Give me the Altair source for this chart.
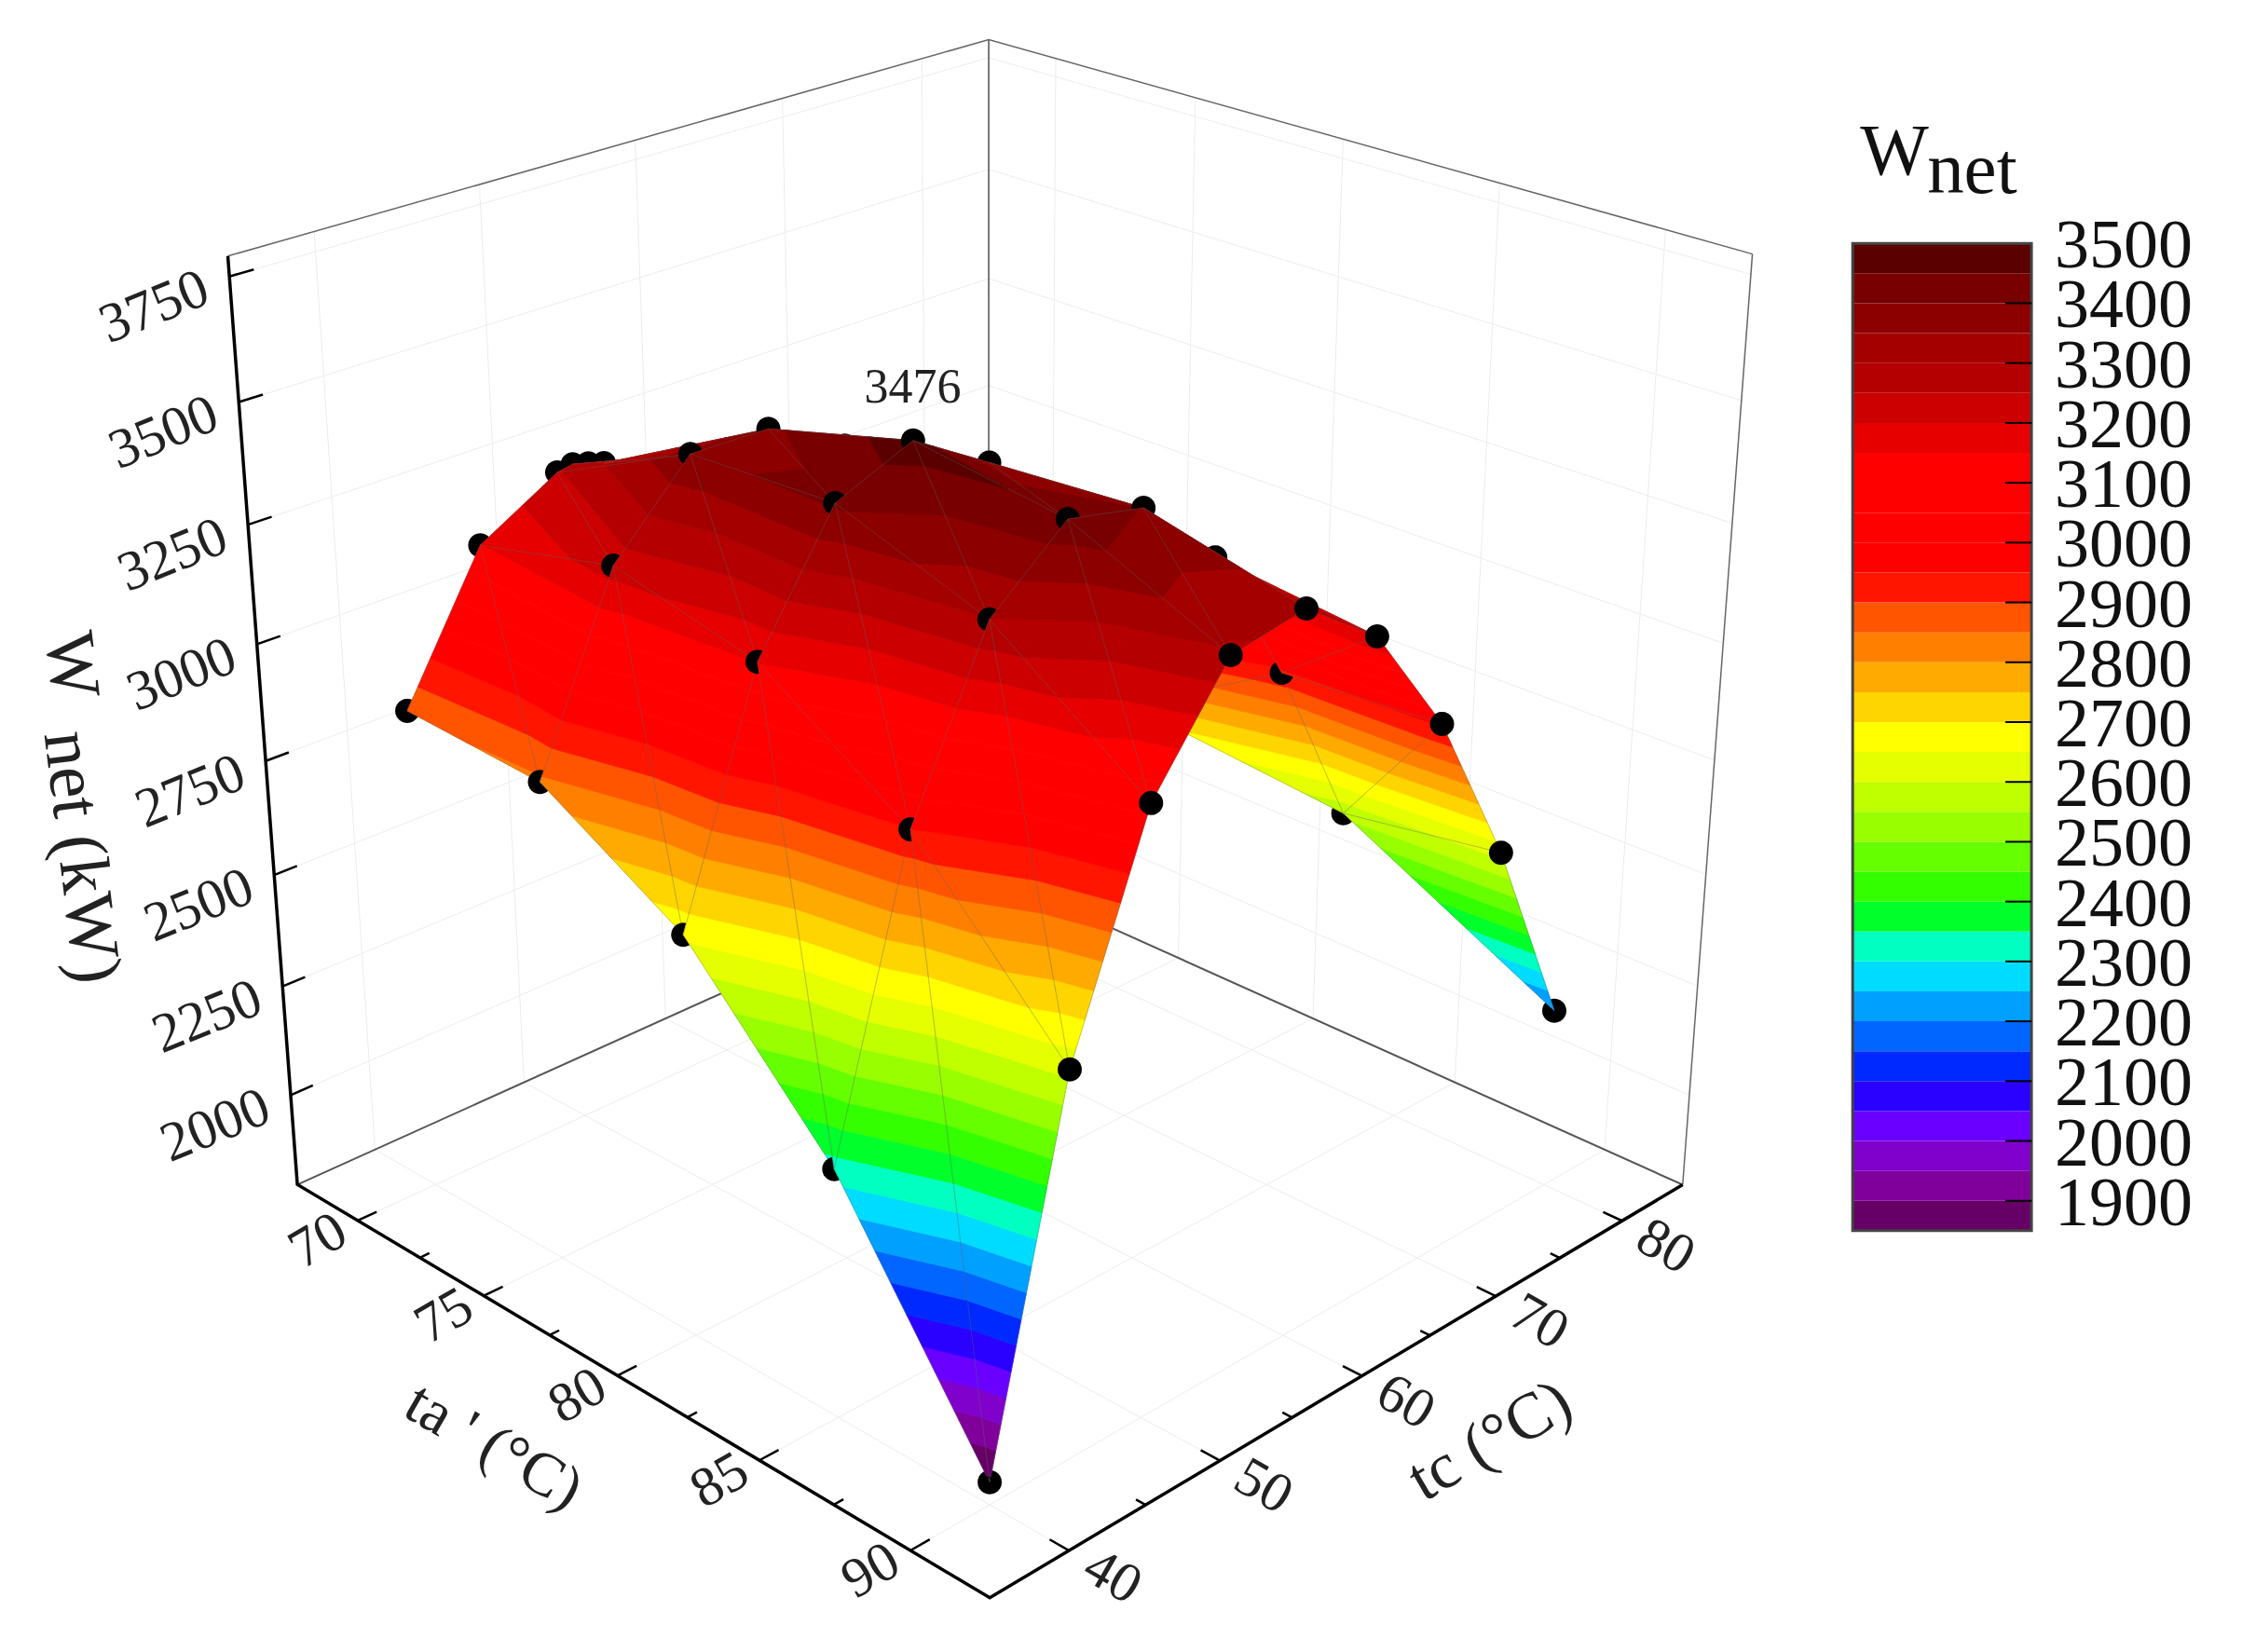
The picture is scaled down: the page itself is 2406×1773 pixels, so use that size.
import math
import numpy as np
import pandas as pd
import altair as alt

# ---------- data ----------
TA_ROWS = [70, 75, 80, 85, 90]
TC_BY_ROW = {
    70: [40, 45, 50, 51, 52, 53],
    75: [40, 45, 50, 55, 60, 65],
    80: [40, 45, 50, 55, 60, 65, 70],
    85: [40, 45, 50, 55, 60, 65, 70, 75],
    90: [40, 45, 50, 55, 60, 65, 70, 75, 80],
}
W_BY_ROW = {
    70: [2858, 3148, 3244, 3250, 3241, 3230],
    75: [2840, 3224, 3394, 3390, 3300, 2950],
    80: [2662, 3152, 3408, 3476, 3376, 3200, 2740],
    85: [2328, 2949, 3298, 3434, 3398, 3240, 2938, 2566],
    90: [1839, 2615, 3070, 3291, 3319, 3202, 2960, 2619, 2194],
}
PEAK_LABEL = "3476"
TA_TICKS = [70, 75, 80, 85, 90]
TC_TICKS = [40, 50, 60, 70, 80]
W_TICKS = [2000, 2250, 2500, 2750, 3000, 3250, 3500, 3750]
LEG_TICKS = [1900, 2000, 2100, 2200, 2300, 2400, 2500, 2600, 2700, 2800, 2900,
             3000, 3100, 3200, 3300, 3400]
LEG_LABELS = LEG_TICKS + [3500]
LEVELS = list(range(1850, 3501, 50))
BAND_COLORS = ["#660066", "#80009c", "#8000cc", "#6a00ff", "#2a00ff", "#0029ff",
               "#0066ff", "#00a0ff", "#00dcff", "#00ffc0", "#00ff2b", "#33ff00",
               "#66ff00", "#99ff00", "#bfff00", "#e6ff00", "#ffff00", "#ffd500",
               "#ffaa00", "#ff8000", "#ff5500", "#ff1500", "#ff0000", "#ff0000",
               "#ff0000", "#ff0000", "#e60000", "#cc0000", "#b40000", "#a50000",
               "#8c0000", "#780000", "#5a0000"]

# ---------- camera: box limits and where the box corners fall on the page ----------
TA_LIM = (67.5, 92.5)
TC_LIM = (35.0, 85.0)
W_LIM = (1790.0, 3790.0)
CORNERS = [(0, 0, 0, 318, 1273), (1, 0, 0, 1061, 1714), (1, 1, 0, 1805, 1273),
           (0, 1, 0, 1060, 935), (0, 0, 1, 243, 274), (1, 1, 1, 1880, 272),
           (0, 1, 1, 1060, 43)]
A = []
for u, v, w, x, y in CORNERS:
    A.append([u, v, w, 1, 0, 0, 0, 0, -x*u, -x*v, -x*w, -x])
    A.append([0, 0, 0, 0, u, v, w, 1, -y*u, -y*v, -y*w, -y])
P = np.linalg.svd(np.array(A, float))[2][-1].reshape(3, 4)
if P[2] @ np.array([1, 0, 0, 1.0]) < 0:
    P = -P
DEPTH_SCALE = 1.0 / abs(P[2] @ np.array([1, 0, 0, 1.0]))


def proj(p):
    ta, tc, w = p
    q = np.array([(ta-TA_LIM[0])/(TA_LIM[1]-TA_LIM[0]),
                  (tc-TC_LIM[0])/(TC_LIM[1]-TC_LIM[0]),
                  (w-W_LIM[0])/(W_LIM[1]-W_LIM[0]), 1.0])
    h = P @ q
    return float(h[0]/h[2]), float(h[1]/h[2]), float(h[2]*DEPTH_SCALE)


def xy(p):
    a = proj(p)
    return [round(a[0], 2), round(a[1], 2)]


def line(pts, stroke, sw):
    return {"type": "Feature",
            "properties": {"fill": "none", "stroke": stroke, "sw": sw},
            "geometry": {"type": "LineString", "coordinates": [xy(p) for p in pts]}}


def poly(coords, fill, sw=0.8):
    return {"type": "Feature",
            "properties": {"fill": fill, "stroke": fill, "sw": sw},
            "geometry": {"type": "Polygon", "coordinates": [coords + [coords[0]]]}}


# ---------- triangulate rows (diagonals run from (ta, tc+) to (ta+, tc)) ----------
tris = []
for r0, r1 in zip(TA_ROWS[:-1], TA_ROWS[1:]):
    a = [(r0, t, w) for t, w in zip(TC_BY_ROW[r0], W_BY_ROW[r0])]
    b = [(r1, t, w) for t, w in zip(TC_BY_ROW[r1], W_BY_ROW[r1])]
    i = j = 0
    while i < len(a)-1 or j < len(b)-1:
        if i < len(a)-1 and (j == len(b)-1 or a[i+1][1] <= b[j+1][1]):
            tris.append((a[i], b[j], a[i+1]))
            i += 1
        else:
            tris.append((a[i], b[j], b[j+1]))
            j += 1


def clip(pts, lim, keep_above):
    out = []
    n = len(pts)
    for k in range(n):
        p, q = pts[k], pts[(k+1) % n]
        pin = p[2] >= lim if keep_above else p[2] <= lim
        qin = q[2] >= lim if keep_above else q[2] <= lim
        if pin:
            out.append(p)
        if pin != qin:
            t = (lim-p[2])/(q[2]-p[2])
            out.append(tuple(p[m]+t*(q[m]-p[m]) for m in range(3)))
    return out


DOT_R = 13
DOT_BIAS = 0.0
items = []
for tri in tris:
    feats = []
    for k, col in enumerate(BAND_COLORS):
        pts = clip(list(tri), LEVELS[k], True)
        if len(pts) >= 3:
            pts = clip(pts, LEVELS[k+1], False)
        if len(pts) >= 3:
            feats.append(poly([xy(p) for p in pts], col))
    feats.append(line([tri[0], tri[1], tri[2], tri[0]], "rgba(95,95,95,0.35)", 1))
    items.append((sum(proj(p)[2] for p in tri)/3, feats))
for r in TA_ROWS:
    for t, w in zip(TC_BY_ROW[r], W_BY_ROW[r]):
        x0, y0, d = proj((r, t, w))
        ring = [[round(x0+DOT_R*math.cos(a*math.pi/12), 2),
                 round(y0+DOT_R*math.sin(a*math.pi/12), 2)] for a in range(24)]
        items.append((d-DOT_BIAS, [poly(ring, "#000000", 0)]))
items.sort(key=lambda z: -z[0])

# ---------- box, grid and ticks ----------
t0, t1 = TA_LIM
c0, c1 = TC_LIM
w0, w1 = W_LIM
GRID = "#ececec"
back = []
for t in TA_TICKS:
    back.append(line([(t, c0, w0), (t, c1, w0), (t, c1, w1)], GRID, 1))
for c in TC_TICKS:
    back.append(line([(t1, c, w0), (t0, c, w0), (t0, c, w1)], GRID, 1))
for w in W_TICKS:
    back.append(line([(t0, c0, w), (t0, c1, w), (t1, c1, w)], GRID, 1))
back += [line([(t0, c1, w0), (t0, c1, w1)], "#777777", 2),
         line([(t0, c0, w1), (t0, c1, w1), (t1, c1, w1)], "#666666", 1.5),
         line([(t1, c1, w0), (t1, c1, w1)], "#666666", 1.5),
         line([(t0, c0, w0), (t0, c1, w0), (t1, c1, w0)], "#555555", 2)]
front = [line([(t0, c0, w1), (t0, c0, w0), (t1, c0, w0), (t1, c1, w0)], "#000000", 3.5)]
for t in np.arange(70, 90.1, 2.5):
    ln = 1.2 if t % 5 == 0 else 0.6
    front.append(line([(float(t), c0, w0), (float(t), c0+ln, w0)], "#000000", 2.5))
for c in range(40, 81, 5):
    ln = 0.6 if c % 10 == 0 else 0.3
    front.append(line([(t1, c, w0), (t1-ln, c, w0)], "#000000", 2.5))
for w in W_TICKS:
    front.append(line([(t0, c0, w), (t0, c0+1.4, w)], "#000000", 2.5))

features = back + [f for _, fs in items for f in fs] + front

# ---------- text ----------
FONT = "Liberation Serif"
texts = []
for t in TA_TICKS:
    x, y, _ = proj((t, c0, w0))
    texts.append(dict(px=x-41, py=y+22, s=str(t), z=60, a=-30))
for c in TC_TICKS:
    x, y, _ = proj((t1, c, w0))
    texts.append(dict(px=x+48, py=y+28, s=str(c), z=60, a=30))
for w in W_TICKS:
    x, y, _ = proj((t0, c0, w))
    texts.append(dict(px=x-79, py=y+33, s=str(w), z=60, a=-22))
texts += [dict(px=530, py=1553, s="ta ' (°C)", z=66, a=30),
          dict(px=1600, py=1547, s="tc (°C)", z=70, a=-30),
          dict(px=76, py=714, s="W", z=76, a=83),
          dict(px=87, py=920, s="net (kW)", z=76, a=83),
          dict(px=980, py=416, s=PEAK_LABEL, z=52, a=0)]

MAP_W, PAGE_H = 1979, 1757
surface = alt.Chart(alt.Data(values=features)).mark_geoshape(opacity=1).encode(
    fill=alt.Fill("properties.fill:N", scale=None),
    stroke=alt.Stroke("properties.stroke:N", scale=None),
    strokeWidth=alt.StrokeWidth("properties.sw:Q", scale=None),
).project(type="identity", scale=1, translate=[-6.5, -8])

labels = alt.Chart(pd.DataFrame(texts)).mark_text(
    font=FONT, color="#222222", align="center", baseline="middle"
).encode(
    x=alt.X("px:Q", scale=alt.Scale(domain=[8, 8+MAP_W]), axis=None),
    y=alt.Y("py:Q", scale=alt.Scale(domain=[8+PAGE_H, 8]), axis=None),
    text="s:N",
    size=alt.Size("z:Q", scale=None),
    angle=alt.Angle("a:Q", scale=None),
)
main = alt.layer(surface, labels).properties(width=MAP_W, height=PAGE_H)

# ---------- legend ----------
LEG_W = 192
PX_PER_UNIT = 0.6425
leg_y = alt.Scale(domain=[1850-(1765-1321)/PX_PER_UNIT, 3500+(261-8)/PX_PER_UNIT])
bands = pd.DataFrame({"lo": LEVELS[:-1], "hi": LEVELS[1:], "c": BAND_COLORS})
leg_rect = alt.Chart(bands).mark_rect(stroke=None).encode(
    y=alt.Y("lo:Q", scale=leg_y, axis=None), y2="hi:Q",
    x=alt.value(1), x2=alt.value(LEG_W+1),
    color=alt.Color("c:N", scale=None))
leg_box = alt.Chart(pd.DataFrame({"lo": [1850], "hi": [3500]})).mark_rect(
    fill="transparent", stroke="#444444", strokeWidth=3).encode(
    y=alt.Y("lo:Q", scale=leg_y, axis=None), y2="hi:Q",
    x=alt.value(1), x2=alt.value(LEG_W+1))
leg_ticks = alt.Chart(pd.DataFrame({"v": LEG_TICKS})).mark_rule(
    color="#000000", strokeWidth=2).encode(
    y=alt.Y("v:Q", scale=leg_y, axis=None),
    x=alt.value(LEG_W-27), x2=alt.value(LEG_W+1))
leg_text = alt.Chart(pd.DataFrame({"v": LEG_LABELS, "s": [str(v) for v in LEG_LABELS]})).mark_text(
    font=FONT, fontSize=74, color="#111111", align="left", baseline="middle", dy=4).encode(
    y=alt.Y("v:Q", scale=leg_y, axis=None), x=alt.value(218), text="s:N")
leg_w = alt.Chart(pd.DataFrame({"s": ["W"]})).mark_text(
    font=FONT, fontSize=78, color="#111111", align="left", baseline="alphabetic").encode(
    x=alt.value(9), y=alt.value(179), text="s:N")
leg_net = alt.Chart(pd.DataFrame({"s": ["net"]})).mark_text(
    font=FONT, fontSize=79, color="#111111", align="left", baseline="alphabetic").encode(
    x=alt.value(81), y=alt.value(199), text="s:N")
legend = alt.layer(leg_rect, leg_box, leg_ticks, leg_text, leg_w, leg_net).properties(
    width=411, height=PAGE_H)

chart = alt.hconcat(main, legend, spacing=0).properties(padding=0).configure_view(stroke=None)
chart.save("out.html", embed_options={"renderer": "svg", "actions": False})
